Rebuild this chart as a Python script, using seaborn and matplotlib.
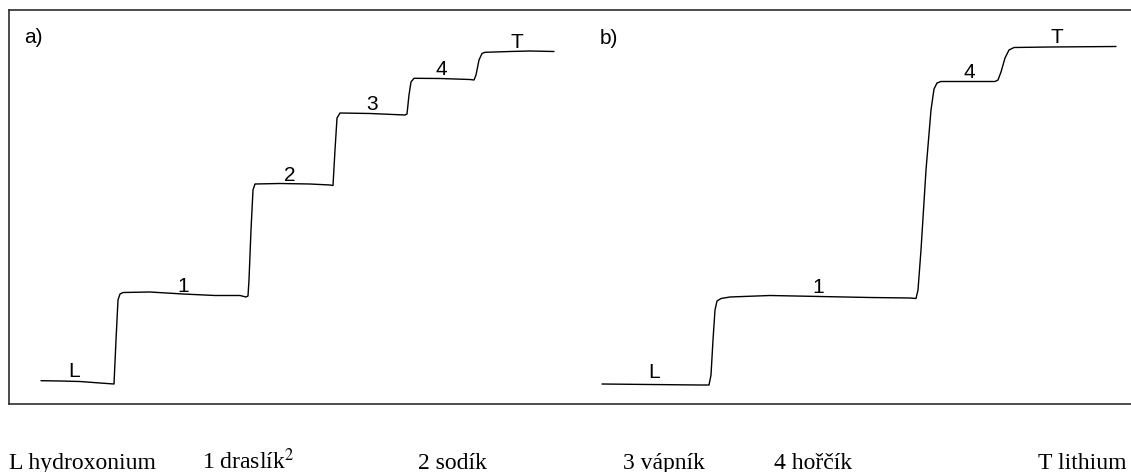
import pandas as pd
import matplotlib.pyplot as plt
import seaborn as sns

# Izotachoforeogramy a) a b) (čas a signál v libovolných jednotkách)
t_a = [41, 60, 80, 100, 114, 116, 118, 120, 123, 150, 183, 215, 240, 246, 248,
       249, 251, 253, 255, 280, 310, 330, 333, 335, 337, 340, 370, 405, 407,
       409, 411, 414, 440, 470, 474, 476, 479, 482, 485, 510, 530, 554]
h_a = [23.3, 23.0, 22.5, 21.0, 20.0, 64.0, 104.0, 110.0, 111.5, 112.0, 110.0, 108.5, 108.5, 107.0, 108.0,
       124.0, 174.0, 214.0, 220.0, 220.5, 220.0, 219.0, 218.5, 254.0, 286.0, 291.0, 290.5, 289.0, 290.0,
       309.0, 322.0, 325.7, 325.5, 324.5, 324.0, 329.0, 344.0, 350.5, 351.7, 352.5, 353.0, 352.5]

t_b = [602, 650, 700, 709, 711, 713, 715, 717, 721, 730, 770, 820, 870, 910, 916,
       918, 921, 926, 931, 934, 937, 941, 970, 995, 998, 1001, 1005, 1009, 1014,
       1050, 1116]
h_b = [20.0, 19.5, 19.0, 19.0, 29.0, 64.0, 94.0, 103.0, 105.5, 107.0, 108.5, 107.5, 106.5, 106.0, 105.5,
       114.0, 154.0, 234.0, 294.0, 315.0, 321.0, 322.5, 322.5, 322.5, 324.0, 332.0, 346.0, 354.0, 356.5,
       357.0, 357.5]

# popisky zón: (text, t, signál)
labels_a = [("a)", 33, 361), ("L", 74, 27), ("1", 183, 112), ("2", 290, 223),
            ("3", 372, 294), ("4", 441, 329), ("T", 517, 356)]
labels_b = [("b)", 609, 360), ("L", 654, 26), ("1", 818, 111),
            ("4", 969, 326), ("T", 1057, 361)]

legend_items = ["L hydroxonium", "1 draslík$^{2}$", "2 sodík",
                "3 vápník", "4 hořčík", "T lithium"]
legend_x = [9, 202, 418, 623, 774, 1126]

df = pd.concat([
    pd.DataFrame({"cas": t_a, "signal": h_a, "zaznam": "a"}),
    pd.DataFrame({"cas": t_b, "signal": h_b, "zaznam": "b"}),
])

sns.set_theme(style="white")
plt.rcParams["font.family"] = ["Liberation Sans", "DejaVu Sans"]
plt.rcParams["mathtext.fontset"] = "stix"

fig = plt.figure(figsize=(11.31, 4.72), dpi=100)
ax = fig.add_axes([9 / 1131, 1 - 404 / 472, 1 - 9 / 1131, (404 - 9.5) / 472])

sns.lineplot(data=df, x="cas", y="signal", units="zaznam", estimator=None,
             sort=False, color="black", linewidth=1.0, ax=ax)

for text, x, y in labels_a + labels_b:
    ax.text(x, y, text, ha="center", va="baseline", fontsize=15, color="black")

ax.set_xlim(9, 1131)
ax.set_ylim(0, 394.5)
ax.set_xticks([])
ax.set_yticks([])
ax.set_xlabel("")
ax.set_ylabel("")
for side in ["top", "bottom", "left"]:
    ax.spines[side].set_visible(True)
    ax.spines[side].set_color("#2e2e2e")
    ax.spines[side].set_linewidth(1.2)
ax.spines["right"].set_visible(False)

# poslední položka je zarovnaná k pravému okraji
for i, (text, x) in enumerate(zip(legend_items, legend_x)):
    fig.text(x / 1131, 1 - 469 / 472, text,
             ha="right" if i == len(legend_items) - 1 else "left", va="baseline",
             fontsize=17, family="Liberation Serif", color="black")

plt.savefig("out.png", dpi=100)
plt.close()
